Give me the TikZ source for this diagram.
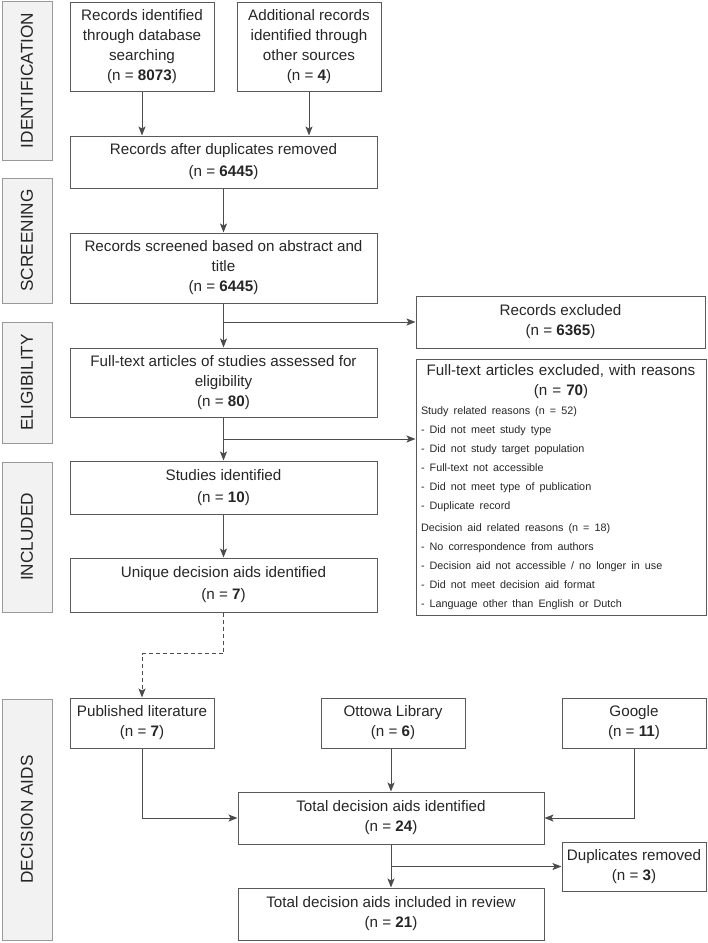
\documentclass[tikz,border=0pt]{standalone}
\usepackage{fontspec}
\setmainfont{Liberation Sans}
\usetikzlibrary{arrows.meta}
\newcommand{\listfont}{\fontsize{10.8}{19}\selectfont}

\begin{document}
\begin{tikzpicture}[x=1pt, y=-1pt,
 font=\fontsize{15.2}{20}\selectfont,
 box/.style={draw=black!65, line width=1pt, align=center, inner sep=0pt, text=black!85},
 stage/.style={draw=black!40, fill=black!5, line width=1pt, rotate=90, minimum height=50, inner sep=0pt, font=\fontsize{17.2}{20}\selectfont, text=black!85},
 flow/.style={draw=black!70, line width=1pt, -{Stealth[length=9pt, width=7pt, inset=2pt]}}]
\useasboundingbox (0,0) rectangle (708,943);

% stages
\foreach \y/\h/\t [count=\i] in {80.5/159/IDENTIFICATION, 240.5/125/SCREENING, 382.5/121/ELIGIBILITY, 537/150/INCLUDED, 819.5/241/DECISION AIDS}
 \node[stage, minimum width=\h] (stage\i) at (27,\y) {\t};

% review of the literature
\node[box, minimum width=144, minimum height=89] (recdb) at (142,46.5) {Records identified\\through database\\searching\\(n = \textbf{8073})};
\node[box, minimum width=144, minimum height=89] (recoth) at (309,46.5) {Additional records\\identified through\\other sources\\(n = \textbf{4})};
\node[box, minimum width=307, minimum height=52] (dupl) at (223.5,162) {Records after duplicates removed\\[2pt](n = \textbf{6445})};
\node[box, minimum width=307, minimum height=70] (screen) at (223.5,268) {Records screened based on abstract and\\title\\(n = \textbf{6445})};
\node[box, minimum width=289, minimum height=52] (recexcl) at (560.5,322) {Records excluded\\(n = \textbf{6365})};
\node[box, minimum width=307, minimum height=69] (fulltext) at (223.5,382.5) {Full-text articles of studies assessed for\\eligibility\\(n = \textbf{80})};
\node[draw=black!65, line width=1pt, inner sep=5pt, text width=280, minimum height=251, text=black!85] (ftexcl) at (561,487.5) {%
 {\centering Full-text articles excluded, with reasons\\(n = \textbf{70})\par}
 {\listfont\raggedright Study related reasons (n = 52)\\
 - Did not meet study type\\
 - Did not study target population\\
 - Full-text not accessible\\
 - Did not meet type of publication\\
 - Duplicate record\\[3pt]
 Decision aid related reasons (n = 18)\\
 - No correspondence from authors\\
 - Decision aid not accessible / no longer in use\\
 - Did not meet decision aid format\\
 - Language other than English or Dutch\par}};
\node[box, minimum width=307, minimum height=53] (studies) at (223.5,487.5) {Studies identified\\[2pt](n = \textbf{10})};
\node[box, minimum width=307, minimum height=54] (unique) at (223.5,585) {Unique decision aids identified\\[2pt](n = \textbf{7})};

% decision aids
\node[box, minimum width=144, minimum height=50] (publit) at (142,723) {Published literature\\(n = \textbf{7})};
\node[box, minimum width=144, minimum height=50] (ottowa) at (393,723) {Ottowa Library\\(n = \textbf{6})};
\node[box, minimum width=144, minimum height=50] (google) at (634,723) {Google\\(n = \textbf{11})};
\node[box, minimum width=306, minimum height=52] (totalid) at (391,818) {Total decision aids identified\\(n = \textbf{24})};
\node[box, minimum width=144, minimum height=49] (duprem) at (634,866.5) {Duplicates removed\\(n = \textbf{3})};
\node[box, minimum width=306, minimum height=52] (totalinc) at (391,914) {Total decision aids included in review\\(n = \textbf{21})};

% arrows
\draw[flow] (recdb) -- (recdb.south |- dupl.north);
\draw[flow] (recoth) -- (recoth.south |- dupl.north);
\draw[flow] (dupl) -- (screen);
\draw[flow] (screen) -- (fulltext);
\draw[flow] (screen.south |- recexcl.west) -- (recexcl.west);
\path (fulltext.south) -- (studies.north) coordinate[midway] (fork);
\draw[flow] (fulltext) -- (studies);
\draw[flow] (fork) -- (fork -| ftexcl.west);
\draw[flow] (studies) -- (unique);
\draw[flow, dash pattern=on 4pt off 3pt] (unique.south) -- ++(0,41) -| (publit.north);
\draw[flow] (publit.south) |- (totalid.west);
\draw[flow] (totalid.north |- ottowa.south) -- (totalid.north);
\draw[flow] (google.south) |- (totalid.east);
\draw[flow] (totalid) -- (totalinc);
\draw[flow] (totalid.south |- duprem.west) -- (duprem.west);
\end{tikzpicture}
\end{document}
